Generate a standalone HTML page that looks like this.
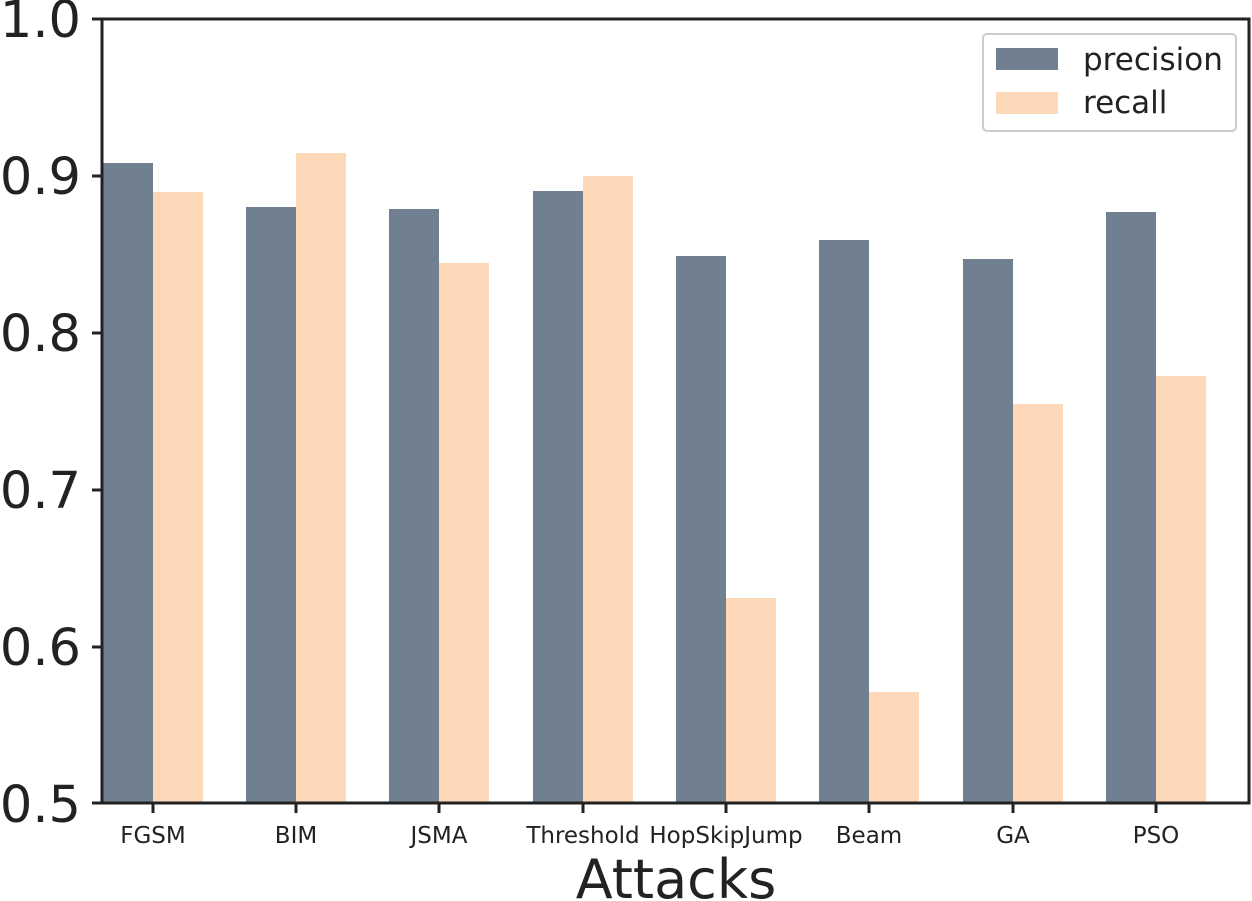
<!DOCTYPE html>
<html><head><meta charset="utf-8"><style>body{margin:0;background:#fff}svg{display:block}</style></head>
<body>
<svg width="1252" height="901" xmlns="http://www.w3.org/2000/svg" font-family="DejaVu Sans, Liberation Sans, sans-serif" fill="#222">
<g id="bars">
<rect x="103" y="163" width="50" height="640" fill="#708090"/><rect x="153" y="192" width="50" height="611" fill="#fdd8b8"/>
<rect x="246" y="207" width="50" height="596" fill="#708090"/><rect x="296" y="153" width="50" height="650" fill="#fdd8b8"/>
<rect x="389" y="209" width="50" height="594" fill="#708090"/><rect x="439" y="263" width="50" height="540" fill="#fdd8b8"/>
<rect x="533" y="191" width="50" height="612" fill="#708090"/><rect x="583" y="176" width="50" height="627" fill="#fdd8b8"/>
<rect x="676" y="256" width="50" height="547" fill="#708090"/><rect x="726" y="598" width="50" height="205" fill="#fdd8b8"/>
<rect x="819" y="240" width="50" height="563" fill="#708090"/><rect x="869" y="692" width="50" height="111" fill="#fdd8b8"/>
<rect x="963" y="259" width="50" height="544" fill="#708090"/><rect x="1013" y="404" width="50" height="399" fill="#fdd8b8"/>
<rect x="1106" y="212" width="50" height="591" fill="#708090"/><rect x="1156" y="376" width="50" height="427" fill="#fdd8b8"/>
</g>
<rect x="102" y="19" width="1147" height="784" fill="none" stroke="#222" stroke-width="3"/>
<g stroke="#222" stroke-width="3">
<line x1="92" y1="19" x2="102" y2="19"/><line x1="92" y1="176" x2="102" y2="176"/><line x1="92" y1="333" x2="102" y2="333"/>
<line x1="92" y1="490" x2="102" y2="490"/><line x1="92" y1="647" x2="102" y2="647"/><line x1="92" y1="803" x2="102" y2="803"/>
<line x1="153" y1="803" x2="153" y2="813"/><line x1="296" y1="803" x2="296" y2="813"/><line x1="439" y1="803" x2="439" y2="813"/>
<line x1="583" y1="803" x2="583" y2="813"/><line x1="726" y1="803" x2="726" y2="813"/><line x1="869" y1="803" x2="869" y2="813"/>
<line x1="1013" y1="803" x2="1013" y2="813"/><line x1="1156" y1="803" x2="1156" y2="813"/>
</g>
<g font-size="51" text-anchor="end">
<text x="81" y="37">1.0</text><text x="81" y="194">0.9</text><text x="81" y="351">0.8</text>
<text x="81" y="508">0.7</text><text x="81" y="665">0.6</text><text x="81" y="822">0.5</text>
</g>
<g font-size="23" text-anchor="middle">
<text x="153" y="843">FGSM</text><text x="296" y="843">BIM</text><text x="439" y="843">JSMA</text>
<text x="583" y="843">Threshold</text><text x="726" y="843">HopSkipJump</text><text x="869" y="843">Beam</text>
<text x="1013" y="843">GA</text><text x="1156" y="843">PSO</text>
</g>
<text x="676" y="898" font-size="54" text-anchor="middle">Attacks</text>
<rect x="983" y="34" width="253" height="97" rx="4" fill="#fff" fill-opacity="0.85" stroke="#ccc" stroke-width="2"/>
<rect x="996" y="48" width="62" height="22" fill="#708090"/>
<rect x="996" y="92" width="62" height="22" fill="#fdd8b8"/>
<text x="1083" y="70" font-size="31">precision</text>
<text x="1083" y="113" font-size="31">recall</text>
</svg>
</body></html>
